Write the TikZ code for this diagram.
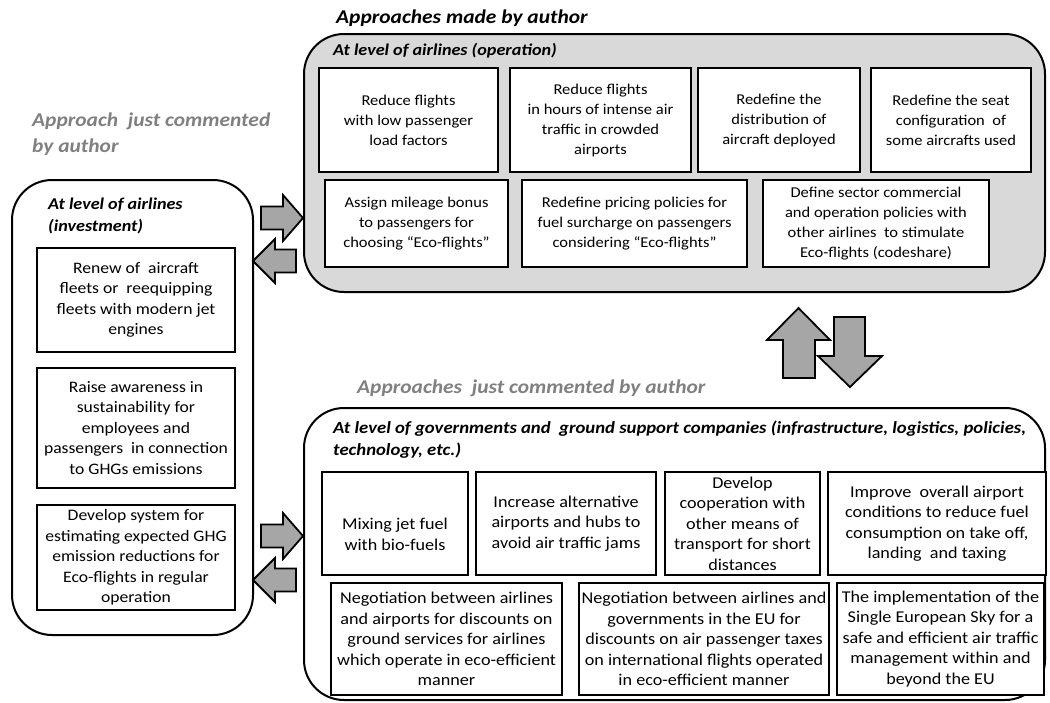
\documentclass[tikz,border=0pt]{standalone}
\usepackage{fontspec}
\setmainfont{Carlito}[FakeStretch=1.1]
\definecolor{panelgray}{HTML}{D9D9D9}
\definecolor{arrowgray}{HTML}{A6A6A6}
\definecolor{headgray}{HTML}{808080}

\tikzset{
  panel/.style={draw, line width=2pt, rounded corners=40pt, inner sep=0pt},
  actbox/.style={draw, fill=white, line width=2.4pt, align=center, inner sep=0pt},
  smalltxt/.style={font=\fontsize{15}{20}\selectfont},
  bigtxt/.style={font=\fontsize{16}{20.5}\selectfont},
  govtxt/.style={font=\fontsize{16.5}{20.5}\selectfont},
  heading/.style={anchor=west, align=left, inner sep=0pt, font=\fontsize{19.5}{26}\selectfont\bfseries\itshape},
  subhead/.style={anchor=west, align=left, inner sep=0pt, font=\fontsize{16.5}{22}\selectfont\bfseries\itshape},
  blockarrow/.style={draw, fill=arrowgray, line width=1.8pt, line join=miter}
}

\begin{document}
\begin{tikzpicture}[x=1pt, y=-1pt]
  \useasboundingbox (0,0) rectangle (1050,702);

  % panels
  \node[panel, fill=panelgray, minimum width=741, minimum height=258] (opspanel) at (674.5,163) {};
  \node[panel, fill=white, minimum width=241, minimum height=455] (invpanel) at (132.5,407.5) {};
  \node[panel, fill=white, minimum width=741, minimum height=292] (govpanel) at (674.5,554) {};

  % headings
  \node[heading] (hdmade) at (336,18) {Approaches made by author};
  \node[heading, text=headgray] (hdleft) at (32,134) {Approach\ \ just commented\\ by author};
  \node[heading, text=headgray] (hdbottom) at (357,388) {Approaches\ \ just commented by author};
  \node[subhead] (lvops) at (333,51) {At level of airlines (operation)};
  \node[subhead] (lvinv) at (48,216) {At level of airlines\\(investment)};
  \node[subhead, font=\fontsize{17}{22}\selectfont\bfseries\itshape] (lvgov) at (333,440) {At level of governments and\ \ ground support companies (infrastructure, logistics, policies,\\technology, etc.)};

  % airlines (operation)
  \node[actbox, smalltxt, minimum width=179, minimum height=104] (ops1) at (408.5,120) {Reduce flights\\with low passenger\\load factors};
  \node[actbox, smalltxt, minimum width=181, minimum height=104] (ops2) at (600.5,120) {Reduce flights\\in hours of intense air\\traffic in crowded\\airports};
  \node[actbox, smalltxt, minimum width=162, minimum height=104] (ops3) at (779,120) {Redefine the\\distribution of\\aircraft deployed};
  \node[actbox, smalltxt, minimum width=160, minimum height=104] (ops4) at (951,120) {Redefine the seat\\configuration\ \ of\\some aircrafts used};
  \node[actbox, smalltxt, minimum width=183, minimum height=87] (ops5) at (416.5,223.5) {Assign mileage bonus\\to passengers for\\choosing “Eco-flights”};
  \node[actbox, smalltxt, minimum width=225, minimum height=87] (ops6) at (634.5,223.5) {Redefine pricing policies for\\fuel surcharge on passengers\\considering “Eco-flights”};
  \node[actbox, smalltxt, minimum width=226, minimum height=87] (ops7) at (876,223.5) {Define sector commercial\\and operation policies with\\other airlines\ \ to stimulate\\Eco-flights (codeshare)};

  % airlines (investment)
  \node[actbox, bigtxt, minimum width=198, minimum height=104] (inv1) at (136,300) {Renew of\ \ aircraft\\fleets or\ \ reequipping\\fleets with modern jet\\engines};
  \node[actbox, bigtxt, minimum width=198, minimum height=120] (inv2) at (136,428) {Raise awareness in\\sustainability for\\employees and\\passengers\ \ in connection\\to GHGs emissions};
  \node[actbox, bigtxt, minimum width=198, minimum height=105] (inv3) at (136,557.5) {Develop system for\\estimating expected GHG\\emission reductions for\\Eco-flights in regular\\operation};

  % governments and ground support
  \node[actbox, govtxt, minimum width=146, minimum height=103] (gov1) at (395,523.5) {\rule{0pt}{33pt}Mixing jet fuel\\with bio-fuels};
  \node[actbox, govtxt, minimum width=180, minimum height=103] (gov2) at (566,523.5) {Increase alternative\\airports and hubs to\\avoid air traffic jams};
  \node[actbox, govtxt, minimum width=155, minimum height=103] (gov3) at (742.5,523.5) {Develop\\cooperation with\\other means of\\transport for short\\distances};
  \node[actbox, govtxt, minimum width=218, minimum height=103] (gov4) at (937,523.5) {Improve\ \ overall airport\\conditions to reduce fuel\\consumption on take off,\\landing\ \ and taxing};
  \node[actbox, govtxt, minimum width=231, minimum height=112] (gov5) at (446.5,639) {Negotiation between airlines\\and airports for discounts on\\ground services for airlines\\which operate in eco-efficient\\manner};
  \node[actbox, govtxt, minimum width=250, minimum height=112] (gov6) at (704,639) {Negotiation between airlines and\\governments in the EU for\\discounts on air passenger taxes\\on international flights operated\\in eco-efficient manner};
  \node[actbox, govtxt, minimum width=207, minimum height=112] (gov7) at (940.5,639) {The implementation of the\\Single European Sky for a\\safe and efficient air traffic\\management within and\\beyond the EU};

  % block arrows between panels
  \foreach \y in {218,536}
    \draw[blockarrow] (261,\y-11.5) -- (283,\y-11.5) -- (283,\y-23) -- (303,\y) -- (283,\y+23) -- (283,\y+11.5) -- (261,\y+11.5) -- cycle;
  \foreach \y in {261,580}
    \draw[blockarrow] (296,\y-11.5) -- (275,\y-11.5) -- (275,\y-22) -- (253,\y) -- (275,\y+22) -- (275,\y+11.5) -- (296,\y+11.5) -- cycle;
  \draw[blockarrow] (783,378) -- (783,340) -- (767,340) -- (798.5,308) -- (830,340) -- (815,340) -- (815,378) -- cycle;
  \draw[blockarrow] (834,317) -- (865,317) -- (865,356) -- (882,356) -- (850,387) -- (818,356) -- (834,356) -- cycle;
\end{tikzpicture}
\end{document}
